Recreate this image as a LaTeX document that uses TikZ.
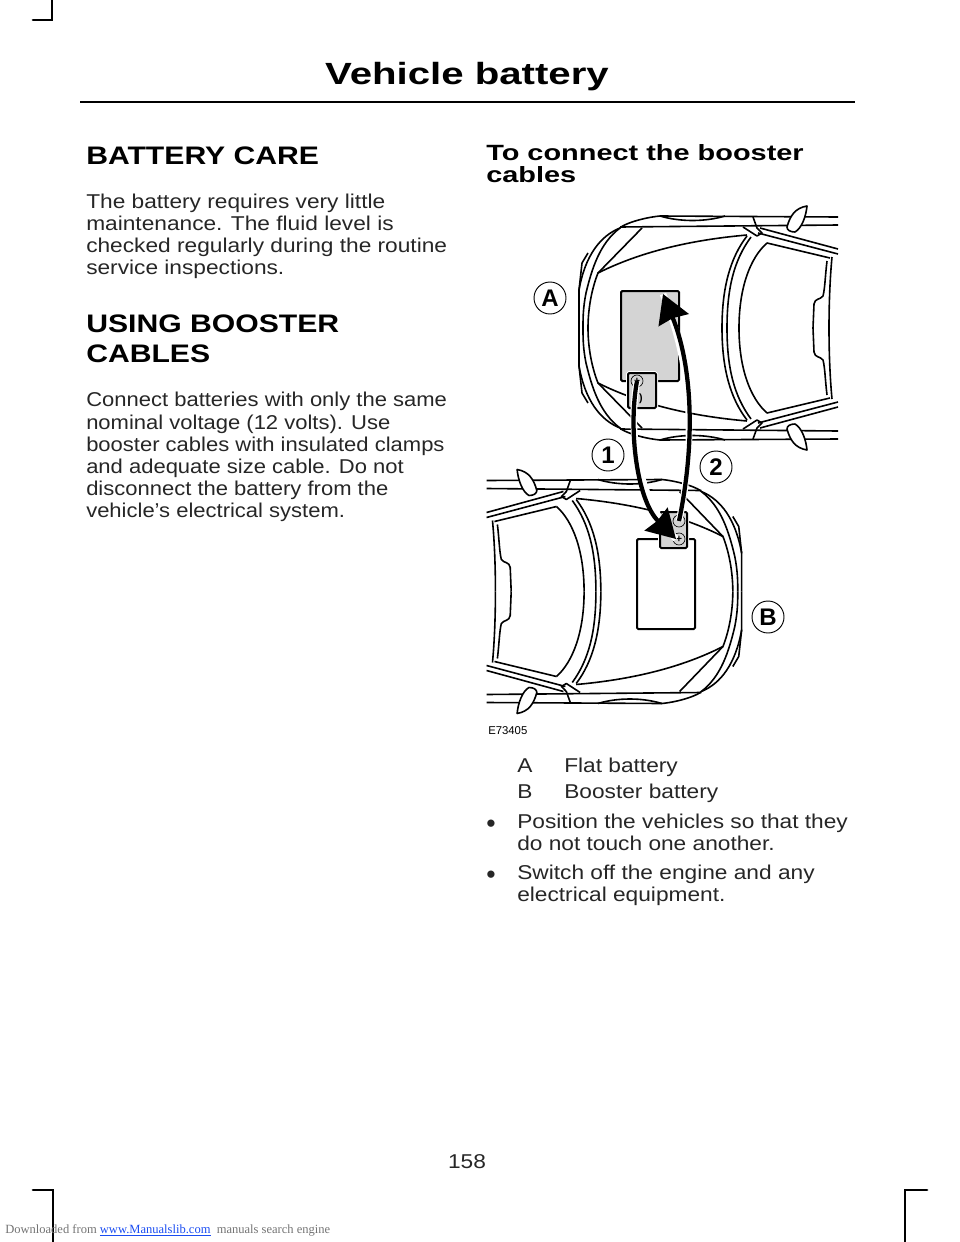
\documentclass[tikz,border=0pt]{standalone}
\usepackage{fontspec}
\setmainfont{Liberation Sans}
\newfontfamily\bodyfont[FakeStretch=1.135]{Liberation Sans}
\newfontfamily\tightfont[FakeStretch=1.10]{Liberation Sans}
\newfontfamily\headfont[FakeStretch=1.31]{Liberation Sans}
\newfontfamily\capsfont[FakeStretch=1.19]{Liberation Sans}
\newfontfamily\serifont{Liberation Serif}
\usetikzlibrary{arrows.meta,positioning}
\definecolor{battgray}{gray}{0.83}
\definecolor{linkblue}{rgb}{0.1,0.3,0.95}

\newcommand{\carbody}{%
  \foreach \side in {1,-1} {
    \begin{scope}[yscale=\side]
      \draw[car line] (838,-111) -- (660,-112) .. controls (640,-110) and (622,-103) .. (620,-100)
        .. controls (600,-92) and (585,-72) .. (579,-38) -- (579,0);
      \draw[car line] (838,-103) -- (620,-101);
      \draw[car line] (660,-112) .. controls (680,-106) and (705,-106) .. (725,-112);
      \draw[car line] (620,-100) .. controls (600,-85) and (592,-60) .. (586,-35)
        .. controls (583,-20) and (583,-10) .. (583,0);
      \draw[car line] (579,-38) -- (582,-65) -- (588,-75);
      \draw[car line] (642,-100) -- (598,-55);
      \draw[car line] (747,-93) .. controls (690,-88) and (640,-76) .. (598,-55)
        .. controls (592,-40) and (588,-20) .. (588,0);
      \draw[car line] (747,-92) .. controls (730,-70) and (722,-40) .. (722,0);
      \draw[car line] (751,-91) .. controls (734,-68) and (727,-40) .. (727,0);
      \draw[car line] (767,-85) .. controls (750,-70) and (739,-40) .. (739,0);
      \draw[car line] (767,-85) -- (830,-70);
      \draw[car line] (832,-71) .. controls (830,-50) and (829,-25) .. (829,0);
      \draw[car line] (827,-67) .. controls (825,-50) and (825,-40) .. (823,-32)
        .. controls (820,-28) and (815,-30) .. (814,-24) -- (813,0);
      \draw[car line] (760,-100) -- (838,-79);
      \draw[car line] (758,-95) -- (838,-74);
      \draw[car line] (753,-111) -- (757,-100) -- (762,-95) -- (757,-92) -- (743,-101);
      \draw[car line,fill=white] (787,-101) .. controls (790,-112) and (795,-120) .. (807,-122)
        .. controls (806,-112) and (802,-100) .. (795,-96) .. controls (790,-96) and (787,-98) .. (787,-101);
    \end{scope}
  }
}

\begin{document}
\begin{tikzpicture}[x=0.75pt,y=-0.75pt,
  car line/.style={line width=1.2pt,line join=round},
  battery/.style={draw,line width=1.5pt,rounded corners=1pt},
  terminal/.style={circle,draw,line width=0.5pt,minimum size=9pt,inner sep=0pt,font=\fontsize{8}{8}\selectfont\bfseries},
  cable/.style={line width=3.2pt,-{Stealth[length=21pt,width=24pt,inset=1.5pt]},preaction={draw=white,line width=5pt,arrows=-}},
  callout/.style={circle,draw,line width=0.7pt,minimum size=24pt,inner sep=0pt,font=\fontsize{18}{18}\selectfont\bfseries},
  body text/.style={anchor=north west,inner sep=0pt,align=left,font=\bodyfont\fontsize{15}{16.65}\selectfont,text=black!85},
  head text/.style={anchor=north west,inner sep=0pt,align=left,font=\capsfont\bfseries\fontsize{19}{22.5}\selectfont},
  bullet/.style={anchor=base west,inner sep=0pt,font=\fontsize{20}{20}\selectfont,text=black!85},
  crop mark/.style={line width=2pt,line cap=round}]

  \useasboundingbox (0,0) rectangle (960,1242);

  \draw[crop mark] (33,20) -- (52,20) -- (52,0);
  \draw[crop mark] (33,1190) -- (53,1190) -- (53,1242);
  \draw[crop mark] (927,1190) -- (905,1190) -- (905,1242);

  % header
  \node[anchor=base,inner sep=0pt,font=\headfont\bfseries\fontsize{23}{23}\selectfont] (title) at (467,84) {Vehicle battery};
  \draw[line width=0.9pt] (80,102) -- (855,102);

  % left column
  \node[head text] (care) at (86,147) {BATTERY CARE};
  \node[body text,below=21pt of care.south west,anchor=north west] (carepara) {The battery requires very little\\maintenance. The fluid level is\\checked regularly during the routine\\service inspections.};
  \node[head text,below=26.3pt of carepara.south west,anchor=north west] (using) {USING BOOSTER\\CABLES};
  \node[body text,font=\tightfont\fontsize{15}{16.65}\selectfont,below=22pt of using.south west,anchor=north west] (usingpara) {Connect batteries with only the same\\nominal voltage (12 volts). Use\\booster cables with insulated clamps\\and adequate size cable. Do not\\disconnect the battery from the\\vehicle’s electrical system.};

  % right column
  \node[head text,font=\headfont\bfseries\fontsize{16.55}{16.65}\selectfont] (connect) at (486,144) {To connect the booster\\cables};

  \begin{scope}[shift={(0,328)}]
    \carbody
  \end{scope}
  \begin{scope}[shift={(1312,591.5)},xscale=-0.985]
    \carbody
  \end{scope}

  \draw[battery,fill=battgray] (621,291) rectangle (679,381);
  \draw[battery,draw=white,line width=3pt] (628,373) rectangle (656,408);
  \draw[battery,fill=battgray] (628,373) rectangle (656,408);
  \draw[battery,fill=white] (637,539) rectangle (695,629);
  \draw[battery,draw=white,line width=3pt] (660,512) rectangle (687,548);
  \draw[battery,fill=battgray] (660,512) rectangle (687,548);

  \node[terminal] (apos) at (637,381) {+};
  \node[terminal,draw=none] (aneg) at (641,399) {)};
  \node[terminal] (bneg) at (679,521) {-};
  \node[terminal] (bpos) at (679,539) {+};

  \coordinate (tipa) at (663,294);
  \coordinate (tipb) at (676,539);
  \draw[cable] (apos.center) .. controls (628,430) and (637,500) .. (tipb);
  \draw[cable] (bneg.center) .. controls (696,440) and (692,365) .. (tipa);

  \node[callout] (a) at (550,298) {A};
  \node[callout] (one) at (608,455) {1};
  \node[callout] (two) at (716,467) {2};
  \node[callout] (b) at (768,617) {B};

  \node[anchor=base west,inner sep=0pt,font=\fontsize{8.5}{8.5}\selectfont] (code) at (488,734) {E73405};

  \node[body text,anchor=base west] (keya) at (517,772) {A};
  \node[body text,anchor=base west] (flat) at (564,772) {Flat battery};
  \node[body text,anchor=base west] (keyb) at (517,798) {B};
  \node[body text,anchor=base west] (boost) at (564,798) {Booster battery};

  \node[bullet] (dotone) at (486,832) {•};
  \node[body text] (position) at (517,814) {Position the vehicles so that they\\do not touch one another.};
  \node[bullet] (dottwo) at (486,883) {•};
  \node[body text] (switch) at (517,865) {Switch off the engine and any\\electrical equipment.};

  % footer
  \node[body text,anchor=base] (page) at (467,1168) {158};
  \node[anchor=base west,inner sep=0pt,font=\serifont\fontsize{9.4}{9.4}\selectfont,text=black!55] (source) at (5,1233) {Downloaded from \textcolor{linkblue}{\underline{www.Manualslib.com}}\ \ manuals search engine};
\end{tikzpicture}
\end{document}
